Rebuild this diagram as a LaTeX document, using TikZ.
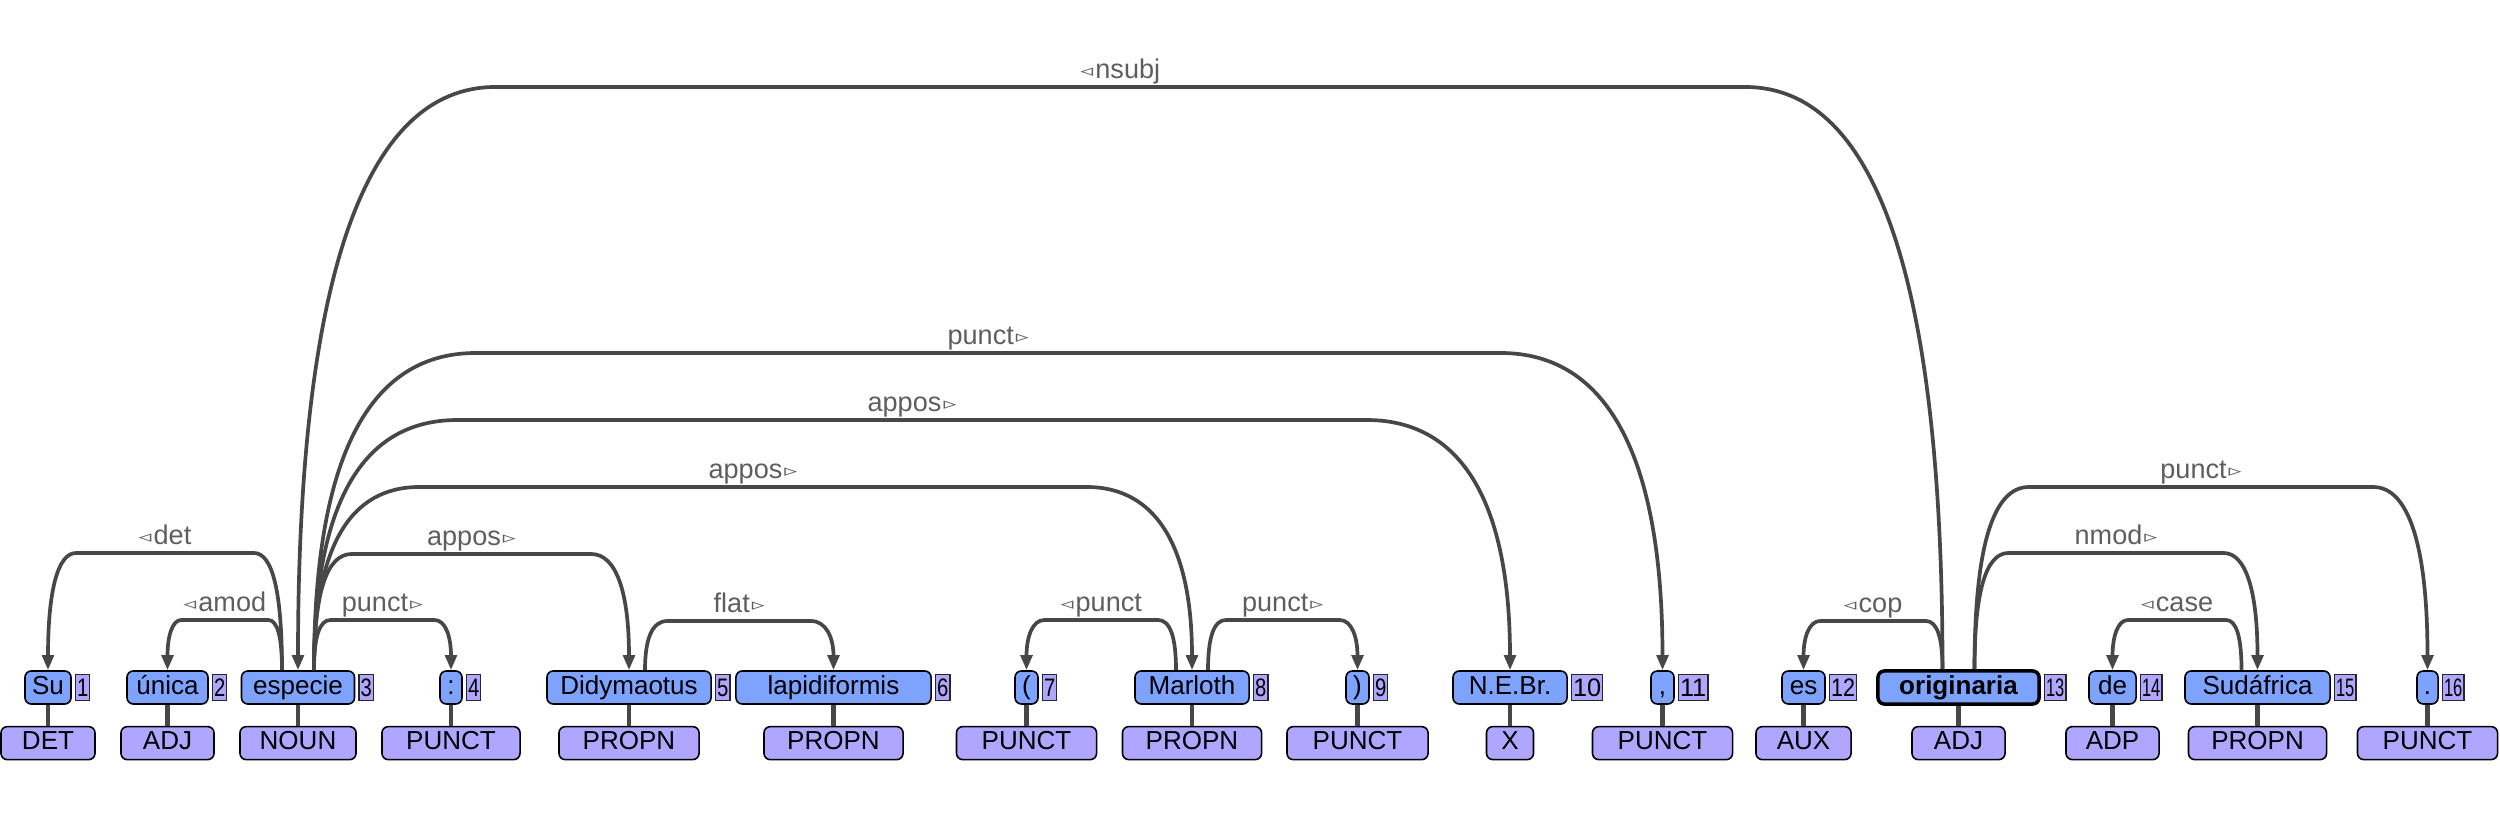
\documentclass[tikz,border=0pt]{standalone}
\usepackage{fontspec}
\setmainfont{Liberation Sans}
\newfontfamily\symfont{DejaVu Sans}
\usepackage{graphicx}
\usetikzlibrary{calc,positioning,arrows.meta}
\definecolor{wordBlue}{HTML}{7DA3FF}
\definecolor{tagPurple}{HTML}{B0A6FF}
\definecolor{depGray}{HTML}{474747}
\definecolor{lblGray}{HTML}{5E5E5E}

\newcommand\ltri{{\symfont\raisebox{0.4pt}{\scalebox{0.95}[0.62]{◃}}}\hspace{0.6pt}}
\newcommand\rtri{\hspace{0.6pt}{\symfont\raisebox{0.4pt}{\scalebox{0.95}[0.62]{▹}}}}
\newcommand\idx[2][1]{\scalebox{#1}[1]{#2}}

% dependency arc: tail node, tail shift, head node, level, label, label name
\newcommand\deparc[6]{%
  \draw[dep] let \p1=($(#1.north)+(#2,0)$), \p2=(#3.north), \p3=(0,#4),
    \n1={0.12*(\x2-\x1)} in
    (\p1) .. controls (\x1,{\y1+2/3*(\y3-\y1)}) and ({\x1+\n1/3},\y3) .. ({\x1+\n1},\y3)
    -- node[lbl] (#6) {#5} ({\x2-\n1},\y3)
    .. controls ({\x2-\n1/3},\y3) and (\x2,{\y2+2/3*(\y3-\y2)}) .. (\p2);}

\begin{document}
\begin{tikzpicture}[
  x=0.01cm, y=-0.01cm,
  word/.style={
    rectangle, rounded corners=1.8pt, draw=black, fill=wordBlue,
    line width=0.45pt, minimum height=0.33cm, inner xsep=0pt, inner ysep=0.045cm,
    text height=0.185cm, text depth=0.055cm, font=\fontsize{7.4}{8.5}\selectfont
  },
  tag/.style={word, fill=tagPurple},
  num/.style={
    rectangle, draw=black!85, fill=tagPurple, line width=0.4pt,
    minimum height=0.26cm, inner xsep=0.015cm, inner ysep=0.04cm,
    text height=0.18cm, text depth=0pt, font=\fontsize{7.2}{8}\selectfont
  },
  stem/.style={line width=1.25pt, depGray},
  dep/.style={-{Triangle[length=4.3pt,width=3.3pt]}, line width=1.05pt, depGray},
  lbl/.style={anchor=base, yshift=2.5pt, inner sep=0pt, text=lblGray,
    font=\fontsize{7.7}{9}\selectfont},
]
\useasboundingbox (0,0) rectangle (2500,816);

% === Words ===
\node[word, minimum width=0.46cm] (w1) at (48,687.5) {Su};
\node[word, minimum width=0.81cm] (w2) at (167.5,687.5) {única};
\node[word, minimum width=1.13cm] (w3) at (298,687.5) {especie};
\node[word, minimum width=0.22cm] (w4) at (451,687.5) {:};
\node[word, minimum width=1.64cm] (w5) at (629,687.5) {Didymaotus};
\node[word, minimum width=1.95cm] (w6) at (833.5,687.5) {lapidiformis};
\node[word, minimum width=0.23cm] (w7) at (1026.5,687.5) {(};
\node[word, minimum width=1.14cm] (w8) at (1192,687.5) {Marloth};
\node[word, minimum width=0.23cm] (w9) at (1357.5,687.5) {)};
\node[word, minimum width=1.14cm] (w10) at (1510,687.5) {N.E.Br.};
\node[word, minimum width=0.23cm] (w11) at (1662.5,687.5) {,};
\node[word, minimum width=0.43cm] (w12) at (1803.5,687.5) {es};
\node[word, minimum width=1.61cm, line width=1pt, font=\fontsize{7.4}{8.5}\selectfont\bfseries] (w13) at (1958.5,687.5) {originaria};
\node[word, minimum width=0.47cm] (w14) at (2112.5,687.5) {de};
\node[word, minimum width=1.45cm] (w15) at (2257.5,687.5) {Sudáfrica};
\node[word, minimum width=0.21cm] (w16) at (2427.5,687.5) {.};

% === Indices ===
\node[num, right=0.03cm of w1] (n1) {\idx[0.8]{1}};
\node[num, right=0.03cm of w2] (n2) {\idx[0.8]{2}};
\node[num, right=0.03cm of w3] (n3) {\idx[0.8]{3}};
\node[num, right=0.03cm of w4] (n4) {\idx[0.8]{4}};
\node[num, right=0.03cm of w5] (n5) {\idx[0.8]{5}};
\node[num, right=0.03cm of w6] (n6) {\idx[0.8]{6}};
\node[num, right=0.03cm of w7] (n7) {\idx[0.8]{7}};
\node[num, right=0.03cm of w8] (n8) {\idx[0.8]{8}};
\node[num, right=0.03cm of w9] (n9) {\idx[0.8]{9}};
\node[num, right=0.03cm of w10] (n10) {\idx{10}};
\node[num, right=0.03cm of w11] (n11) {\idx{11}};
\node[num, right=0.03cm of w12] (n12) {\idx[0.85]{12}};
\node[num, right=0.03cm of w13] (n13) {\idx[0.65]{13}};
\node[num, right=0.03cm of w14] (n14) {\idx[0.65]{14}};
\node[num, right=0.03cm of w15] (n15) {\idx[0.65]{15}};
\node[num, right=0.03cm of w16] (n16) {\idx[0.65]{16}};

% === POS tags ===
\node[tag, minimum width=0.94cm, below=0.21cm of w1] (t1) {DET};
\node[tag, minimum width=0.93cm, below=0.21cm of w2] (t2) {ADJ};
\node[tag, minimum width=1.16cm, below=0.21cm of w3] (t3) {NOUN};
\node[tag, minimum width=1.38cm, below=0.21cm of w4] (t4) {PUNCT};
\node[tag, minimum width=1.40cm, below=0.21cm of w5] (t5) {PROPN};
\node[tag, minimum width=1.39cm, below=0.21cm of w6] (t6) {PROPN};
\node[tag, minimum width=1.40cm, below=0.21cm of w7] (t7) {PUNCT};
\node[tag, minimum width=1.39cm, below=0.21cm of w8] (t8) {PROPN};
\node[tag, minimum width=1.41cm, below=0.21cm of w9] (t9) {PUNCT};
\node[tag, minimum width=0.47cm, below=0.21cm of w10] (t10) {X};
\node[tag, minimum width=1.40cm, below=0.21cm of w11] (t11) {PUNCT};
\node[tag, minimum width=0.95cm, below=0.21cm of w12] (t12) {AUX};
\node[tag, minimum width=0.93cm, anchor=north] (t13) at (w13.south |- t12.north) {ADJ};
\node[tag, minimum width=0.93cm, below=0.21cm of w14] (t14) {ADP};
\node[tag, minimum width=1.38cm, below=0.21cm of w15] (t15) {PROPN};
\node[tag, minimum width=1.40cm, below=0.21cm of w16] (t16) {PUNCT};

\foreach \i in {1,...,16} {
  \draw[stem] (w\i) -- (t\i);
}

% === Dependency arcs ===
\deparc{w13}{-16}{w3}{87}{\ltri nsubj}{lnsubj}
\deparc{w3}{16}{w11}{353}{punct\rtri}{lpunctB}
\deparc{w3}{16}{w10}{420}{appos\rtri}{lapposC}
\deparc{w3}{16}{w8}{487}{appos\rtri}{lapposB}
\deparc{w3}{16}{w5}{554}{appos\rtri}{lapposA}
\deparc{w3}{-16}{w1}{553}{\ltri det}{ldet}
\deparc{w3}{-16}{w2}{620}{\ltri amod}{lamod}
\deparc{w3}{16}{w4}{620}{punct\rtri}{lpunctA}
\deparc{w5}{16}{w6}{621}{flat\rtri}{lflat}
\deparc{w8}{-16}{w7}{620}{\ltri punct}{lpunctC}
\deparc{w8}{16}{w9}{620}{punct\rtri}{lpunctD}
\deparc{w13}{-16}{w12}{621}{\ltri cop}{lcop}
\deparc{w13}{16}{w15}{553}{nmod\rtri}{lnmod}
\deparc{w13}{16}{w16}{487}{punct\rtri}{lpunctE}
\deparc{w15}{-16}{w14}{620}{\ltri case}{lcase}

\end{tikzpicture}
\end{document}
